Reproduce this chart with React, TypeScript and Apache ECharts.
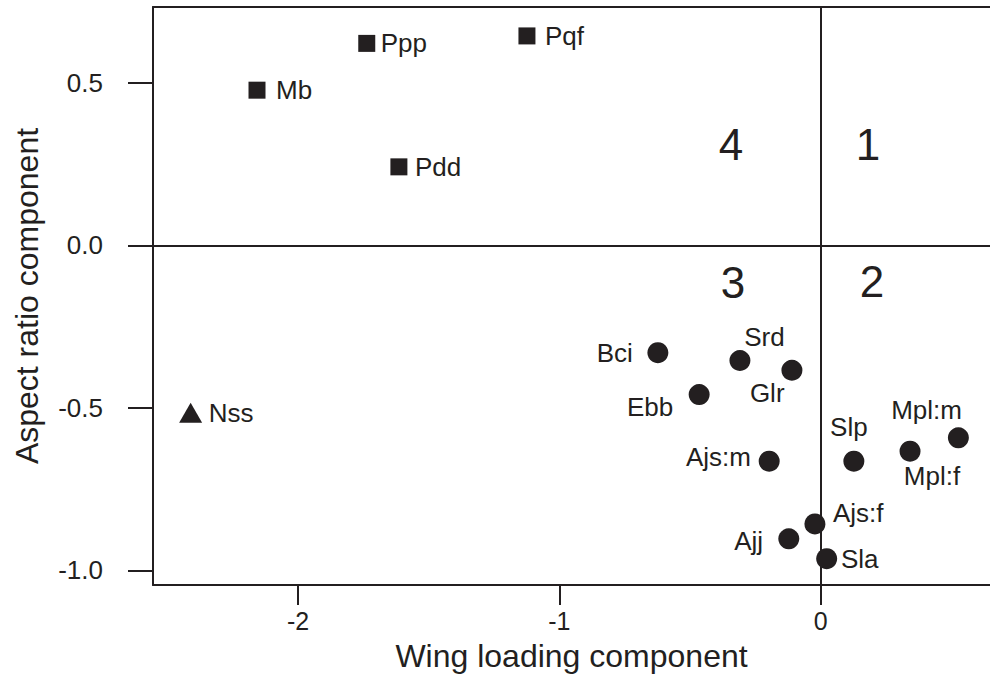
import React, { useEffect, useRef } from "react";
import * as echarts from "echarts";

// ---- data ----
const squareNames = ["Ppp", "Pqf", "Mb", "Pdd"];
const squareX = [-1.737, -1.124, -2.157, -1.614];
const squareY = [0.622, 0.645, 0.478, 0.242];

const triangleNames = ["Nss"];
const triangleX = [-2.411];
const triangleY = [-0.515];

const circleNames = ["Bci", "Srd", "Glr", "Ebb", "Ajs:m", "Slp", "Mpl:m", "Mpl:f", "Ajs:f", "Ajj", "Sla"];
const circleX = [-0.623, -0.309, -0.11, -0.465, -0.197, 0.127, 0.527, 0.342, -0.022, -0.122, 0.023];
const circleY = [-0.33, -0.354, -0.384, -0.459, -0.664, -0.664, -0.592, -0.633, -0.857, -0.903, -0.964];

const quadrantNames = ["1", "2", "3", "4"];
const quadrantX = [0.181, 0.196, -0.336, -0.343];
const quadrantY = [0.312, -0.112, -0.115, 0.312];

const xTicks = [-2, -1, 0];
const yTicks = [0.5, 0, -0.5, -1.0];

const xName = "Wing loading component";
const yName = "Aspect ratio component";

// ---- label placement (style, not data): [align, dx, dy] ----
const placement: Record<string, [string, number, number]> = {
  Ppp: ["left", 14, 0],
  Pqf: ["left", 18, 0],
  Mb: ["left", 19, 0],
  Pdd: ["left", 16, 0],
  Nss: ["left", 18, 0],
  Bci: ["right", -25, 0],
  Srd: ["center", 24.5, -23.7],
  Glr: ["center", -24.7, 22.4],
  Ebb: ["right", -26, 12.3],
  "Ajs:m": ["right", -18.3, -4.3],
  Slp: ["center", -5, -34.3],
  "Mpl:m": ["center", -31.8, -28],
  "Mpl:f": ["center", 22, 24.7],
  "Ajs:f": ["left", 18, -11],
  Ajj: ["right", -25.7, 1.7],
  Sla: ["left", 14.3, 0],
};

const INK = "#231f20";
const FONT = "'Liberation Sans', Arial, Helvetica, sans-serif";

const X_MIN = -2.555;
const X_MAX = 0.648;
const Y_MIN = -1.045;
const Y_MAX = 0.734;

function pointData(names: string[], xs: number[], ys: number[]) {
  return names.map((n, i) => {
    const p = placement[n] || ["left", 14, 0];
    return {
      name: n,
      value: [xs[i], ys[i]],
      label: {
        show: true,
        position: "inside",
        align: p[0],
        verticalAlign: "middle",
        offset: [p[1], p[2]],
        formatter: "{b}",
        color: INK,
        fontSize: 26,
        fontFamily: FONT,
      },
    };
  });
}

export default function App() {
  const ref = useRef<HTMLDivElement>(null);

  useEffect(() => {
    if (!ref.current) return;
    const chart = echarts.init(ref.current, null, { renderer: "svg" });

    const option: any = {
      animation: false,
      backgroundColor: "#ffffff",
      grid: { left: 153, top: 7, right: 0, bottom: 93, containLabel: false },
      xAxis: [
        {
          type: "value",
          min: X_MIN,
          max: X_MAX,
          position: "bottom",
          name: xName,
          nameLocation: "middle",
          nameGap: 55,
          nameTextStyle: { color: INK, fontSize: 32, fontFamily: FONT },
          axisLine: { show: true, onZero: false, lineStyle: { color: INK, width: 2 } },
          axisTick: {
            show: true,
            length: 20,
            customValues: xTicks,
            lineStyle: { color: INK, width: 2 },
          },
          axisLabel: {
            show: true,
            customValues: xTicks,
            margin: 23,
            color: INK,
            fontSize: 25,
            fontFamily: FONT,
            formatter: (v: number) => String(Math.round(v)),
          },
          splitLine: { show: false },
        },
        {
          type: "value",
          min: X_MIN,
          max: X_MAX,
          position: "top",
          axisLine: { show: true, onZero: false, lineStyle: { color: INK, width: 2 } },
          axisTick: { show: false },
          axisLabel: { show: false },
          splitLine: { show: false },
        },
      ],
      yAxis: {
        type: "value",
        min: Y_MIN,
        max: Y_MAX,
        name: yName,
        nameLocation: "middle",
        nameGap: 110,
        nameTextStyle: { color: INK, fontSize: 32, fontFamily: FONT },
        axisLine: { show: true, onZero: false, lineStyle: { color: INK, width: 2 } },
        axisTick: {
          show: true,
          length: 25,
          customValues: yTicks,
          lineStyle: { color: INK, width: 2 },
        },
        axisLabel: {
          show: true,
          customValues: yTicks,
          margin: 50,
          color: INK,
          fontSize: 26,
          fontFamily: FONT,
          formatter: (v: number) => v.toFixed(1),
        },
        splitLine: { show: false },
      },
      series: [
        {
          type: "scatter",
          name: "quadrants",
          symbolSize: 0,
          silent: true,
          itemStyle: { opacity: 1 },
          data: quadrantNames.map((n, i) => ({ name: n, value: [quadrantX[i], quadrantY[i]] })),
          label: {
            show: true,
            position: "inside",
            formatter: "{b}",
            color: INK,
            fontSize: 44,
            fontFamily: FONT,
          },
          markLine: {
            silent: true,
            symbol: ["none", "none"],
            label: { show: false },
            lineStyle: { color: INK, width: 2, type: "solid", opacity: 1 },
            data: [{ xAxis: 0 }, { yAxis: 0 }],
          },
        },
        {
          type: "scatter",
          name: "squares",
          symbol: "rect",
          symbolSize: 17,
          itemStyle: { color: INK, opacity: 1 },
          data: pointData(squareNames, squareX, squareY),
        },
        {
          type: "scatter",
          name: "triangle",
          symbol: "triangle",
          symbolSize: [23, 20],
          itemStyle: { color: INK, opacity: 1 },
          data: pointData(triangleNames, triangleX, triangleY),
        },
        {
          type: "scatter",
          name: "circles",
          symbol: "circle",
          symbolSize: 21,
          itemStyle: { color: INK, opacity: 1 },
          data: pointData(circleNames, circleX, circleY),
        },
      ],
    };

    chart.setOption(option);
    return () => chart.dispose();
  }, []);

  return (
    <div
      ref={ref}
      style={{ position: "fixed", left: 0, top: 0, width: 990, height: 678, background: "#fff" }}
    />
  );
}
